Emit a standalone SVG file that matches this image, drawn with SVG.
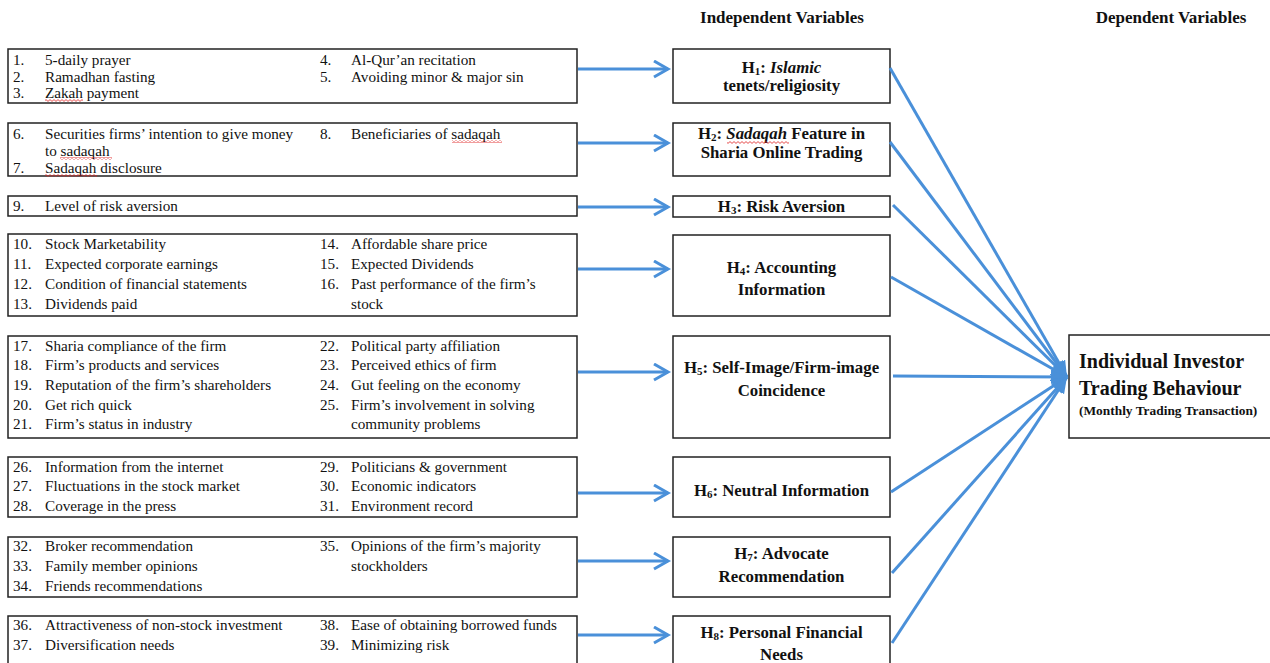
<svg xmlns="http://www.w3.org/2000/svg" width="1270" height="663" viewBox="0 0 1270 663">
<style>
  text { font-family: "Liberation Serif", "Times New Roman", serif; fill: #111; }
  .box { fill: #fff; stroke: #222; stroke-width: 1.5; }
  .it { font-size: 15.2px; }
  .h { font-size: 16.8px; font-weight: bold; text-anchor: middle; }
  .hd { font-size: 17px; font-weight: bold; text-anchor: middle; }
  .sub { font-size: 11px; }
  .arr { stroke: #4a90d9; stroke-width: 3; fill: none; }
  .sq { fill: url(#squig); }
</style>
<defs>
  <marker id="chev" markerUnits="userSpaceOnUse" markerWidth="20" markerHeight="22" refX="15" refY="9" orient="auto">
    <path d="M1,1 L15,9 L1,17" fill="none" stroke="#4a90d9" stroke-width="3"/>
  </marker>
  <marker id="tri" markerUnits="userSpaceOnUse" markerWidth="18" markerHeight="16" refX="16" refY="7" orient="auto">
    <path d="M0,0 L16,7 L0,14 Z" fill="#4a90d9"/>
  </marker>
  <pattern id="squig" width="4" height="3" patternUnits="userSpaceOnUse">
    <path d="M0,2.4 L2,0.6 L4,2.4" fill="none" stroke="#e02020" stroke-width="0.8"/>
  </pattern>
</defs>
<rect width="1270" height="663" fill="#fff"/>

<text class="hd" x="782" y="23">Independent Variables</text>
<text class="hd" x="1171" y="23">Dependent Variables</text>

<!-- Left item boxes -->
<g id="items1">
  <rect class="box" x="8" y="49" width="569" height="54"/>
  <text class="it" x="13" y="65">1.</text><text class="it" x="45" y="65">5-daily prayer</text>
  <text class="it" x="13" y="82">2.</text><text class="it" x="45" y="82">Ramadhan fasting</text>
  <text class="it" x="13" y="98">3.</text><text class="it" x="45" y="98">Zakah payment</text>
  <text class="it" x="320" y="65">4.</text><text class="it" x="351" y="65">Al-Qur’an recitation</text>
  <text class="it" x="320" y="82">5.</text><text class="it" x="351" y="82">Avoiding minor &amp; major sin</text>
  <rect class="sq" x="45" y="99" width="38" height="3"/>
</g>
<g id="items2">
  <rect class="box" x="8" y="123" width="569" height="53"/>
  <text class="it" x="13" y="139">6.</text><text class="it" x="45" y="139">Securities firms’ intention to give money</text>
  <text class="it" x="45" y="156">to sadaqah</text>
  <text class="it" x="13" y="173">7.</text><text class="it" x="45" y="173">Sadaqah disclosure</text>
  <text class="it" x="320" y="139">8.</text><text class="it" x="351" y="139">Beneficiaries of sadaqah</text>
  <rect class="sq" x="60" y="157" width="52" height="3"/>
  <rect class="sq" x="45" y="174" width="52" height="3"/>
  <rect class="sq" x="452" y="140" width="50" height="3"/>
</g>
<g id="items3">
  <rect class="box" x="8" y="196" width="569" height="20"/>
  <text class="it" x="13" y="211">9.</text><text class="it" x="45" y="211">Level of risk aversion</text>
</g>
<g id="items4">
  <rect class="box" x="8" y="234" width="569" height="82"/>
  <text class="it" x="13" y="249">10.</text><text class="it" x="45" y="249">Stock Marketability</text>
  <text class="it" x="13" y="269">11.</text><text class="it" x="45" y="269">Expected corporate earnings</text>
  <text class="it" x="13" y="289">12.</text><text class="it" x="45" y="289">Condition of financial statements</text>
  <text class="it" x="13" y="309">13.</text><text class="it" x="45" y="309">Dividends paid</text>
  <text class="it" x="320" y="249">14.</text><text class="it" x="351" y="249">Affordable share price</text>
  <text class="it" x="320" y="269">15.</text><text class="it" x="351" y="269">Expected Dividends</text>
  <text class="it" x="320" y="289">16.</text><text class="it" x="351" y="289">Past performance of the firm’s</text>
  <text class="it" x="351" y="309">stock</text>
</g>
<g id="items5">
  <rect class="box" x="8" y="336" width="569" height="102"/>
  <text class="it" x="13" y="351">17.</text><text class="it" x="45" y="351">Sharia compliance of the firm</text>
  <text class="it" x="13" y="370">18.</text><text class="it" x="45" y="370">Firm’s products and services</text>
  <text class="it" x="13" y="390">19.</text><text class="it" x="45" y="390">Reputation of the firm’s shareholders</text>
  <text class="it" x="13" y="410">20.</text><text class="it" x="45" y="410">Get rich quick</text>
  <text class="it" x="13" y="429">21.</text><text class="it" x="45" y="429">Firm’s status in industry</text>
  <text class="it" x="320" y="351">22.</text><text class="it" x="351" y="351">Political party affiliation</text>
  <text class="it" x="320" y="370">23.</text><text class="it" x="351" y="370">Perceived ethics of firm</text>
  <text class="it" x="320" y="390">24.</text><text class="it" x="351" y="390">Gut feeling on the economy</text>
  <text class="it" x="320" y="410">25.</text><text class="it" x="351" y="410">Firm’s involvement in solving</text>
  <text class="it" x="351" y="429">community problems</text>
</g>
<g id="items6">
  <rect class="box" x="8" y="457" width="569" height="60"/>
  <text class="it" x="13" y="472">26.</text><text class="it" x="45" y="472">Information from the internet</text>
  <text class="it" x="13" y="491">27.</text><text class="it" x="45" y="491">Fluctuations in the stock market</text>
  <text class="it" x="13" y="511">28.</text><text class="it" x="45" y="511">Coverage in the press</text>
  <text class="it" x="320" y="472">29.</text><text class="it" x="351" y="472">Politicians &amp; government</text>
  <text class="it" x="320" y="491">30.</text><text class="it" x="351" y="491">Economic indicators</text>
  <text class="it" x="320" y="511">31.</text><text class="it" x="351" y="511">Environment record</text>
</g>
<g id="items7">
  <rect class="box" x="8" y="537" width="569" height="60"/>
  <text class="it" x="13" y="551">32.</text><text class="it" x="45" y="551">Broker recommendation</text>
  <text class="it" x="13" y="571">33.</text><text class="it" x="45" y="571">Family member opinions</text>
  <text class="it" x="13" y="591">34.</text><text class="it" x="45" y="591">Friends recommendations</text>
  <text class="it" x="320" y="551">35.</text><text class="it" x="351" y="551">Opinions of the firm’s majority</text>
  <text class="it" x="351" y="571">stockholders</text>
</g>
<g id="items8">
  <rect class="box" x="8" y="616" width="569" height="60"/>
  <text class="it" x="13" y="630">36.</text><text class="it" x="45" y="630">Attractiveness of non-stock investment</text>
  <text class="it" x="13" y="650">37.</text><text class="it" x="45" y="650">Diversification needs</text>
  <text class="it" x="320" y="630">38.</text><text class="it" x="351" y="630">Ease of obtaining borrowed funds</text>
  <text class="it" x="320" y="650">39.</text><text class="it" x="351" y="650">Minimizing risk</text>
</g>

<!-- Hypothesis boxes -->
<g id="H1">
  <rect class="box" x="673" y="49" width="217" height="54"/>
  <text class="h" x="781.5" y="73">H<tspan class="sub" dy="2">1</tspan><tspan dy="-2">: </tspan><tspan font-style="italic">Islamic</tspan></text>
  <text class="h" x="781.5" y="91">tenets/religiosity</text>
</g>
<g id="H2">
  <rect class="box" x="673" y="123" width="217" height="53"/>
  <text class="h" x="781.5" y="139">H<tspan class="sub" dy="2">2</tspan><tspan dy="-2">: </tspan><tspan font-style="italic">Sadaqah</tspan> Feature in</text>
  <text class="h" x="781.5" y="158">Sharia Online Trading</text>
  <rect class="sq" x="727" y="141" width="62" height="3"/>
</g>
<g id="H3">
  <rect class="box" x="673" y="196" width="217" height="21"/>
  <text class="h" x="781.5" y="212">H<tspan class="sub" dy="2">3</tspan><tspan dy="-2">: Risk Aversion</tspan></text>
</g>
<g id="H4">
  <rect class="box" x="673" y="235" width="217" height="81"/>
  <text class="h" x="781.5" y="273">H<tspan class="sub" dy="2">4</tspan><tspan dy="-2">: Accounting</tspan></text>
  <text class="h" x="781.5" y="295">Information</text>
</g>
<g id="H5">
  <rect class="box" x="673" y="336" width="217" height="102"/>
  <text class="h" x="781.5" y="373">H<tspan class="sub" dy="2">5</tspan><tspan dy="-2">: Self-Image/Firm-image</tspan></text>
  <text class="h" x="781.5" y="396">Coincidence</text>
</g>
<g id="H6">
  <rect class="box" x="673" y="457" width="217" height="60"/>
  <text class="h" x="781.5" y="496">H<tspan class="sub" dy="2">6</tspan><tspan dy="-2">: Neutral Information</tspan></text>
</g>
<g id="H7">
  <rect class="box" x="673" y="537" width="217" height="60"/>
  <text class="h" x="781.5" y="559">H<tspan class="sub" dy="2">7</tspan><tspan dy="-2">: Advocate</tspan></text>
  <text class="h" x="781.5" y="582">Recommendation</text>
</g>
<g id="H8">
  <rect class="box" x="673" y="616" width="217" height="60"/>
  <text class="h" x="781.5" y="638">H<tspan class="sub" dy="2">8</tspan><tspan dy="-2">: Personal Financial</tspan></text>
  <text class="h" x="781.5" y="660">Needs</text>
</g>

<!-- Dependent variable -->
<g id="DV">
  <rect class="box" x="1069" y="335" width="210" height="103"/>
  <text x="1079" y="368" font-size="20" font-weight="bold">Individual Investor</text>
  <text x="1079" y="395" font-size="20" font-weight="bold">Trading Behaviour</text>
  <text x="1079" y="415" font-size="13.4" font-weight="bold">(Monthly Trading Transaction)</text>
</g>

<!-- Connectors -->
<g id="connectors">
  <line class="arr" x1="578" y1="69" x2="668" y2="69" marker-end="url(#chev)"/>
  <line class="arr" x1="578" y1="143" x2="668" y2="143" marker-end="url(#chev)"/>
  <line class="arr" x1="578" y1="207" x2="668" y2="207" marker-end="url(#chev)"/>
  <line class="arr" x1="578" y1="269" x2="668" y2="269" marker-end="url(#chev)"/>
  <line class="arr" x1="578" y1="372" x2="668" y2="372" marker-end="url(#chev)"/>
  <line class="arr" x1="578" y1="493" x2="668" y2="493" marker-end="url(#chev)"/>
  <line class="arr" x1="578" y1="561" x2="668" y2="561" marker-end="url(#chev)"/>
  <line class="arr" x1="578" y1="635" x2="668" y2="635" marker-end="url(#chev)"/>

  <line class="arr" x1="890" y1="68" x2="1067" y2="377" marker-end="url(#tri)"/>
  <line class="arr" x1="890" y1="142" x2="1067" y2="377" marker-end="url(#tri)"/>
  <line class="arr" x1="893" y1="205" x2="1067" y2="377" marker-end="url(#tri)"/>
  <line class="arr" x1="891" y1="277" x2="1067" y2="377" marker-end="url(#tri)"/>
  <line class="arr" x1="893" y1="376" x2="1067" y2="377" marker-end="url(#tri)"/>
  <line class="arr" x1="891" y1="492" x2="1067" y2="377" marker-end="url(#tri)"/>
  <line class="arr" x1="892" y1="573" x2="1067" y2="377" marker-end="url(#tri)"/>
  <line class="arr" x1="892" y1="643" x2="1067" y2="377" marker-end="url(#tri)"/>
</g>
</svg>
